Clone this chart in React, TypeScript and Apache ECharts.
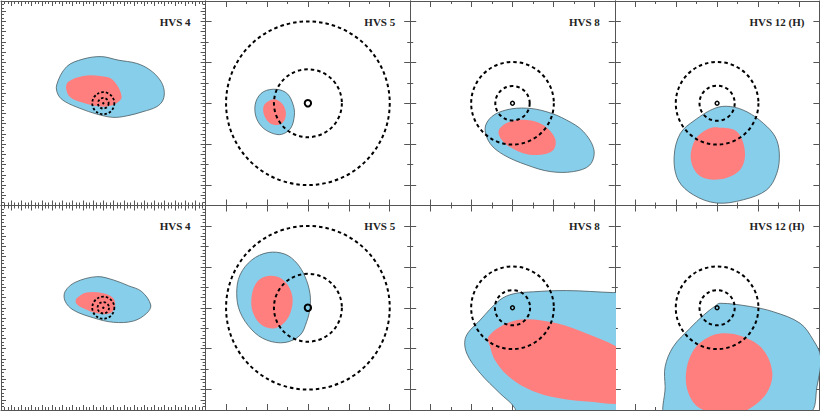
import React, { useEffect, useRef } from "react";
import * as echarts from "echarts";

// ---- panel labels (row-major: top row then bottom row) ----
const panelLabels = ["HVS 4", "HVS 5", "HVS 8", "HVS 12 (H)", "HVS 4", "HVS 5", "HVS 8", "HVS 12 (H)"];
// axis half-range of each panel (HVS 4 panels are zoomed out)
const panelHalfRange = [50, 25, 25, 25, 50, 25, 25, 25];

// ---- blue (outer) contours ----
const blueHVS4a = [[-22.8, 8.9], [-17.9, 17.9], [-9.9, 21.6], [-0.8, 22.8], [7.2, 21.1], [16.3, 19.5], [22.8, 16.3], [27.7, 11.4], [29.7, 6.5], [29.2, 1.6], [26.1, -1.7], [19.4, -4.1], [11.4, -6.2], [4.7, -6.9], [-3.2, -5.3], [-11.4, -2.5], [-18.7, 0.8], [-22.0, 4.0]];
const blueHVS5a = [[-7.6, 3.4], [-5.0, 2.3], [-3.6, -0.4], [-3.3, -2.9], [-4.2, -6.1], [-6.4, -7.6], [-8.8, -7.3], [-11.3, -5.7], [-12.8, -2.9], [-12.7, 0.4], [-10.9, 2.8]];
const blueHVS8a = [[-6.7, -6.1], [-5.1, -3.3], [-1.4, -1.6], [3.5, -1.2], [8.4, -2.1], [13.2, -4.1], [17.3, -6.9], [19.9, -11.4], [18.9, -15.1], [14.9, -16.7], [9.2, -16.7], [3.5, -15.1], [-2.2, -12.6], [-5.5, -9.8]];
const blueHVS12a = [[-0.5, -1.2], [3.2, -0.8], [7.3, -2.1], [11.3, -4.9], [14.2, -8.2], [15.2, -12.2], [14.6, -17.1], [12.1, -21.2], [6.4, -23.6], [-0.1, -24.4], [-5.8, -22.4], [-9.5, -18.8], [-10.5, -13.1], [-9.0, -7.4], [-5.4, -4.1]];
const blueHVS4b = [[-18.7, 7.9], [-13.8, 12.4], [-3.2, 15.2], [4.9, 13.6], [12.2, 10.8], [18.8, 7.9], [23.2, 1.3], [21.2, -2.7], [14.7, -6.5], [4.9, -7.1], [-4.9, -4.9], [-14.7, -1.1], [-18.7, 3.3]];
const blueHVS5b = [[-9.7, 13.5], [-5.6, 13.1], [-2.7, 10.9], [-0.7, 7.6], [0.5, 3.5], [0.5, -0.1], [-0.3, -3.4], [-1.9, -6.7], [-5.6, -8.5], [-10.1, -7.9], [-13.7, -5.4], [-16.6, -1.0], [-17.4, 3.5], [-16.6, 8.0], [-13.7, 11.7]];
const blueHVS8b = [[-11.4, -7.1], [-7.9, -3.0], [-3.1, 1.9], [0.2, 3.4], [5.1, 3.9], [13.2, 4.2], [24.6, 3.7], [29, 3.6], [29, -29], [1.5, -29], [0.6, -24.6], [-3.1, -20.9], [-7.9, -16.0], [-11.2, -11.1]];
const blueHVS12b = [[-0.5, 0.4], [0.7, 1.1], [8.1, 0.3], [13.8, -1.0], [20.3, -3.8], [23.5, -7.9], [25.3, -12.0], [24.4, -19.3], [22.7, -25.8], [10, -29], [-12.3, -27], [-12.7, -19.3], [-12.7, -14.4], [-10.7, -9.5], [-6.6, -5.0], [-3.3, -1.8]];

// ---- red (inner) contours ----
const redHVS4a = [[-18.2, 7.5], [-17.1, 10.5], [-9.9, 13.3], [-1.6, 13.3], [4.7, 11.4], [9.0, 3.2], [5.7, -0.4], [-0.1, -1.7], [-9.9, 0.3], [-16.3, 3.1]];
const redHVS5a = [[-8.3, 1.0], [-6.4, 0.0], [-5.4, -2.1], [-5.8, -4.3], [-7.2, -5.3], [-9.3, -4.9], [-10.7, -2.9], [-10.7, -0.4]];
const redHVS8a = [[-3.1, -6.1], [-0.6, -4.5], [3.5, -4.1], [7.5, -5.3], [10.4, -8.6], [10.0, -11.4], [6.7, -12.6], [2.6, -12.2], [-1.4, -10.2], [-3.3, -7.8]];
const redHVS12a = [[0.3, -5.9], [4.8, -6.9], [6.8, -11.8], [5.6, -16.3], [0.7, -18.6], [-4.2, -17.8], [-6.4, -13.9], [-5.4, -9.0], [-2.5, -6.4]];
const redHVS4b = [[-13.0, 4.6], [-8.1, 7.5], [0.0, 7.1], [4.9, 4.6], [5.7, 0.5], [3.3, -2.7], [-3.2, -2.7], [-9.8, -0.3], [-13.3, 2.2]];
const redHVS5b = [[-9.3, 7.8], [-6.0, 6.8], [-4.1, 3.9], [-3.8, 0.7], [-5.2, -3.0], [-8.0, -5.0], [-11.3, -4.2], [-13.5, -1.0], [-13.7, 3.1], [-12.3, 6.5]];
const redHVS8b = [[-5.9, -7.1], [-1.4, -3.8], [3.5, -2.8], [10.8, -3.8], [18.1, -6.3], [25.5, -9.5], [29, -12], [29, -22.5], [18.1, -22.9], [9.2, -21.7], [3.5, -19.7], [-1.4, -16.4], [-4.3, -12.8], [-5.5, -9.5]];
const redHVS12b = [[0.7, -6.3], [6.4, -7.1], [11.3, -10.3], [13.5, -16.0], [12.1, -20.9], [8.1, -24.6], [3.2, -26.5], [-4.2, -24.6], [-7.0, -20.9], [-7.6, -16.0], [-6.2, -11.1], [-3.3, -7.9]];

const blueContours = [blueHVS4a, blueHVS5a, blueHVS8a, blueHVS12a, blueHVS4b, blueHVS5b, blueHVS8b, blueHVS12b];
const redContours = [redHVS4a, redHVS5a, redHVS8a, redHVS12a, redHVS4b, redHVS5b, redHVS8b, redHVS12b];

// ---- dashed ring radii (data units) around the origin ----
const ringRadii = [[5.4, 2.6], [20, 8.3], [10.1, 4.2], [10.1, 4.3], [5.4, 2.8], [20, 8.3], [10.1, 4.3], [10.1, 4.3]];
// ---- central marker size (px) ----
const markerRadius = [1.2, 3.2, 1.9, 1.9, 1.2, 3.2, 1.9, 1.9];

const BLUE = "#87CEEB";
const RED = "#FF7F7F";
const FRAME = "#555555";

const colLeft = [1, 205.6, 410.2, 614.8];
const rowTop = [1, 205.5];
const PW = 204.6;
const PH = 204.5;

function axisCommon(half: number) {
  const wide = half === 50;
  return {
    type: "value",
    min: -half,
    max: half,
    interval: wide ? 5 : 10,
    axisLine: { show: true, onZero: false, lineStyle: { color: FRAME, width: 1 } },
    axisTick: { show: true, inside: true, length: wide ? 5 : 3, lineStyle: { color: FRAME, width: 1 } },
    minorTick: { show: true, splitNumber: wide ? 3 : 2, length: wide ? 3 : 6, lineStyle: { color: FRAME, width: 1 } },
    axisLabel: { show: false },
    splitLine: { show: false },
    minorSplitLine: { show: false },
  };
}

export default function App() {
  const ref = useRef<HTMLDivElement>(null);
  useEffect(() => {
    if (!ref.current) return;
    const chart = echarts.init(ref.current, undefined, { renderer: "svg" });
    const grid: any[] = [];
    const xAxis: any[] = [];
    const yAxis: any[] = [];
    const series: any[] = [];
    const graphic: any[] = [];
    for (let g = 0; g < 8; g++) {
      const r = Math.floor(g / 4);
      const c = g % 4;
      const half = panelHalfRange[g];
      grid.push({ left: colLeft[c], top: rowTop[r], width: PW, height: PH, containLabel: false });
      xAxis.push({ ...axisCommon(half), gridIndex: g, position: "bottom" });
      xAxis.push({ ...axisCommon(half), gridIndex: g, position: "top" });
      yAxis.push({ ...axisCommon(half), gridIndex: g, position: "left" });
      yAxis.push({ ...axisCommon(half), gridIndex: g, position: "right" });
      const xi = 2 * g;
      const yi = 2 * g;
      const blue = blueContours[g];
      const red = redContours[g];
      series.push({
        type: "custom",
        xAxisIndex: xi,
        yAxisIndex: yi,
        clip: true,
        data: [[0, 0]],
        renderItem: (_p: any, api: any) => ({
          type: "polygon",
          shape: { points: blue.map((pt) => api.coord(pt)), smooth: 0.35 },
          style: { fill: BLUE, stroke: "#4a5a60", lineWidth: 0.8 },
        }),
      });
      series.push({
        type: "custom",
        xAxisIndex: xi,
        yAxisIndex: yi,
        clip: true,
        data: [[0, 0]],
        renderItem: (_p: any, api: any) => ({
          type: "polygon",
          shape: { points: red.map((pt) => api.coord(pt)), smooth: 0.35 },
          style: { fill: RED, stroke: "none" },
        }),
      });
      const rings = ringRadii[g];
      series.push({
        type: "custom",
        xAxisIndex: xi,
        yAxisIndex: yi,
        clip: true,
        data: rings.map((rr) => [0, 0, rr]),
        renderItem: (_p: any, api: any) => {
          const ctr = api.coord([api.value(0), api.value(1)]);
          const rad = api.size([api.value(2), 0])[0];
          const small = rad < 15;
          return {
            type: "circle",
            shape: { cx: ctr[0], cy: ctr[1], r: rad },
            style: {
              fill: "none",
              stroke: "#000",
              lineWidth: small ? 1.8 : 2,
              lineDash: small ? [2.5, 2] : [3.5, 3],
            },
          };
        },
      });
      const mr = markerRadius[g];
      series.push({
        type: "custom",
        xAxisIndex: xi,
        yAxisIndex: yi,
        clip: true,
        data: [[0, 0]],
        renderItem: (_p: any, api: any) => {
          const ctr = api.coord([api.value(0), api.value(1)]);
          return {
            type: "circle",
            shape: { cx: ctr[0], cy: ctr[1], r: mr },
            style: mr < 1.5 ? { fill: "#000", stroke: "none" } : { fill: "none", stroke: "#000", lineWidth: mr > 3 ? 2 : 1.5 },
          };
        },
      });
      graphic.push({
        type: "text",
        x: colLeft[c] + PW - 15,
        y: rowTop[r] + 20.5,
        style: {
          text: panelLabels[g],
          align: "right",
          verticalAlign: "middle",
          fill: "#222",
          font: 'bold 11px "Liberation Serif", "Times New Roman", serif',
        },
        z: 100,
      });
    }
    chart.setOption({
      animation: false,
      backgroundColor: "#ffffff",
      grid,
      xAxis,
      yAxis,
      series,
      graphic,
    });
    return () => chart.dispose();
  }, []);
  return (
    <div
      ref={ref}
      style={{ position: "absolute", left: 0, top: 0, width: 822, height: 412, background: "#fff" }}
    />
  );
}
